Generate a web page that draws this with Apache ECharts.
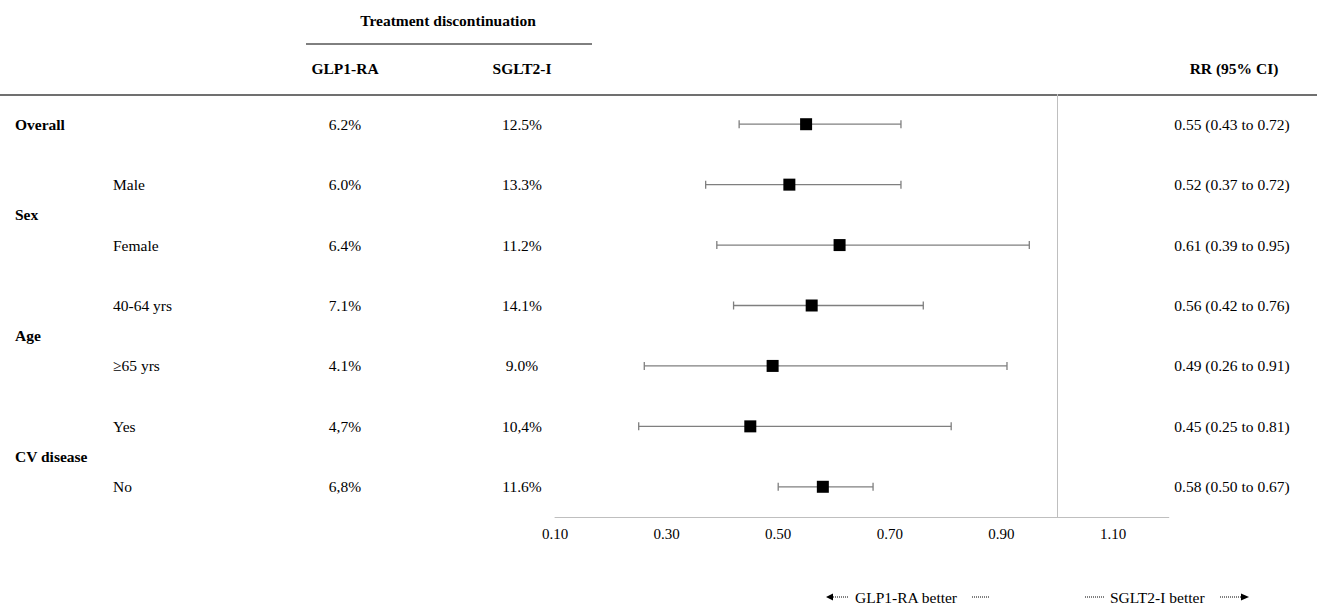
<!DOCTYPE html>
<html lang="en">
<head>
    <meta charset="utf-8">
    <title>forest plot</title>
    <script src="https://cdn.jsdelivr.net/npm/echarts@6/dist/echarts.min.js"></script>
    <style>
        html, body { margin: 0; padding: 0; background: #fff; }
        #chart { width: 1317px; height: 605px; }
    </style>
</head>
<body>
<div id="chart"></div>
<script>
    var groupNames = ['Overall', 'Sex', 'Age', 'CV disease'];
    var groupRows = [0, 1.5, 3.5, 5.5];
    var subgroups = ['', 'Male', 'Female', '40-64 yrs', '\u226565 yrs', 'Yes', 'No'];
    var glp1 = ['6.2%', '6.0%', '6.4%', '7.1%', '4.1%', '4,7%', '6,8%'];
    var sglt2 = ['12.5%', '13.3%', '11.2%', '14.1%', '9.0%', '10,4%', '11.6%'];
    var rr = [0.55, 0.52, 0.61, 0.56, 0.49, 0.45, 0.58];
    var ciLow = [0.43, 0.37, 0.39, 0.42, 0.26, 0.25, 0.50];
    var ciHigh = [0.72, 0.72, 0.95, 0.76, 0.91, 0.81, 0.67];
    var xTicks = [0.1, 0.3, 0.5, 0.7, 0.9, 1.1];

    var FONT = '"Liberation Serif", "Times New Roman", serif';
    var FS = 15.5;

    function rrLabel(i) {
        return rr[i].toFixed(2) + ' (' + ciLow[i].toFixed(2) + ' to ' + ciHigh[i].toFixed(2) + ')';
    }

    function txt(x, y, text, align, bold) {
        return {
            type: 'text', x: x, y: y,
            style: {
                text: text, align: align, verticalAlign: 'middle',
                fontFamily: FONT, fontSize: FS, fontWeight: bold ? 'bold' : 'normal', fill: '#000'
            }
        };
    }

    var chart = echarts.init(document.getElementById('chart'), null, {renderer: 'svg'});

    chart.setOption({
        animation: false,
        backgroundColor: '#fff',
        grid: { left: 555, top: 94, width: 613.8, height: 423 },
        xAxis: {
            type: 'value', min: 0.1, max: 1.2, interval: 0.2,
            splitLine: { show: false },
            axisTick: { show: false },
            axisLine: { onZero: false, lineStyle: { color: '#bfbfbf', width: 1 } },
            axisLabel: {
                showMaxLabel: false, margin: 9,
                fontFamily: FONT, fontSize: 15, color: '#000',
                formatter: function (v) { return xTicks.indexOf(Math.round(v * 10) / 10) >= 0 ? v.toFixed(2) : ''; }
            }
        },
        yAxis: {
            type: 'value', inverse: true, min: -0.5, max: 6.5, show: false
        },
        graphic: [
            txt(448, 20, 'Treatment discontinuation', 'center', true),
            { type: 'line', shape: { x1: 306, y1: 44, x2: 592, y2: 44 }, style: { stroke: '#000', lineWidth: 1 } },
            txt(345, 68, 'GLP1-RA', 'center', true),
            txt(522, 68, 'SGLT2-I', 'center', true),
            txt(1234, 68, 'RR (95% CI)', 'center', true),
            { type: 'line', shape: { x1: 0, y1: 95, x2: 1317, y2: 95 }, style: { stroke: '#404040', lineWidth: 1.5 } },
            // direction legend
            { type: 'polygon', shape: { points: [[826, 597], [833, 593.5], [833, 600.5]] }, style: { fill: '#000' } },
            { type: 'line', shape: { x1: 833, y1: 597, x2: 849, y2: 597 }, style: { stroke: '#000', lineWidth: 1, lineDash: [1, 1] } },
            txt(855, 597, 'GLP1-RA better', 'left', false),
            { type: 'line', shape: { x1: 972, y1: 597, x2: 990, y2: 597 }, style: { stroke: '#000', lineWidth: 1, lineDash: [1, 1] } },
            { type: 'line', shape: { x1: 1085, y1: 597, x2: 1105, y2: 597 }, style: { stroke: '#000', lineWidth: 1, lineDash: [1, 1] } },
            txt(1110, 597, 'SGLT2-I better', 'left', false),
            { type: 'line', shape: { x1: 1220, y1: 597, x2: 1241, y2: 597 }, style: { stroke: '#000', lineWidth: 1, lineDash: [1, 1] } },
            { type: 'polygon', shape: { points: [[1249, 597], [1241, 593.5], [1241, 600.5]] }, style: { fill: '#000' } }
        ],
        series: [
            {
                // confidence intervals
                type: 'custom',
                data: rr.map(function (v, i) { return [ciLow[i], ciHigh[i], i]; }),
                renderItem: function (params, api) {
                    var p1 = api.coord([api.value(0), api.value(2)]);
                    var p2 = api.coord([api.value(1), api.value(2)]);
                    var s = { stroke: '#7f7f7f', lineWidth: 1.3 };
                    return {
                        type: 'group', children: [
                            { type: 'line', shape: { x1: p1[0], y1: p1[1], x2: p2[0], y2: p2[1] }, style: s },
                            { type: 'line', shape: { x1: p1[0], y1: p1[1] - 4, x2: p1[0], y2: p1[1] + 4 }, style: s },
                            { type: 'line', shape: { x1: p2[0], y1: p2[1] - 4, x2: p2[0], y2: p2[1] + 4 }, style: s }
                        ]
                    };
                },
                z: 2
            },
            {
                type: 'scatter',
                data: rr.map(function (v, i) { return [v, i]; }),
                symbol: 'rect', symbolSize: 12,
                itemStyle: { color: '#000', opacity: 1 },
                z: 3,
                markLine: {
                    silent: true, symbol: 'none', label: { show: false },
                    lineStyle: { color: '#bfbfbf', type: 'solid', width: 1 },
                    data: [{ xAxis: 1 }]
                }
            },
            {
                // table rows
                type: 'custom',
                data: subgroups.map(function (s, i) { return [0.1, i]; }),
                renderItem: function (params, api) {
                    var i = params.dataIndex;
                    var y = api.coord([0.1, api.value(1)])[1];
                    return {
                        type: 'group', children: [
                            txt(113, y, subgroups[i], 'left', false),
                            txt(345, y, glp1[i], 'center', false),
                            txt(522, y, sglt2[i], 'center', false),
                            txt(1232, y, rrLabel(i), 'center', false)
                        ]
                    };
                }
            },
            {
                // group headings
                type: 'custom',
                data: groupRows.map(function (r) { return [0.1, r]; }),
                renderItem: function (params, api) {
                    var y = api.coord([0.1, api.value(1)])[1];
                    return txt(15, y, groupNames[params.dataIndex], 'left', true);
                }
            }
        ]
    });
</script>
</body>
</html>
